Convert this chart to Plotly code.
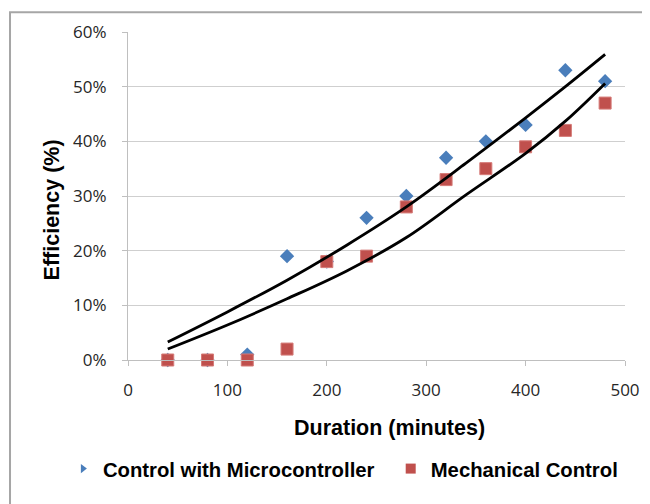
import plotly.graph_objects as go

# ---- data ----
duration = [40, 80, 120, 160, 200, 240, 280, 320, 360, 400, 440, 480]
micro_eff = [0, 0, 1, 19, 18, 26, 30, 37, 40, 43, 53, 51]
mech_eff = [0, 0, 0, 2, 18, 19, 28, 33, 35, 39, 42, 47]

trend_x = [40, 100, 160, 220, 280, 340, 400, 440, 480]
trend_micro = [3.3, 8.8, 14.6, 21.0, 28.0, 36.0, 44.3, 50.0, 55.9]
trend_mech = [2.0, 6.4, 11.2, 16.3, 22.4, 30.2, 37.8, 43.7, 50.6]

x_ticks = [0, 100, 200, 300, 400, 500]
y_ticks = [0, 10, 20, 30, 40, 50, 60]
y_tick_labels = ["0%", "10%", "20%", "30%", "40%", "50%", "60%"]

names = ["Control with Microcontroller", "Mechanical Control"]
blue = "#4a7ebb"
red = "#c0504d"

fig = go.Figure()

fig.add_trace(go.Scatter(
    x=duration, y=micro_eff, mode="markers", showlegend=False,
    marker=dict(symbol="diamond", size=11, color=blue, line=dict(width=0)),
    cliponaxis=False))
fig.add_trace(go.Scatter(
    x=duration, y=mech_eff, mode="markers", showlegend=False,
    marker=dict(symbol="square", size=12, color=red,
                line=dict(width=1, color="#d57a77")),
    cliponaxis=False))
fig.add_trace(go.Scatter(
    x=trend_x, y=trend_micro, mode="lines", showlegend=False,
    line=dict(color="black", width=2.8, shape="spline")))
fig.add_trace(go.Scatter(
    x=trend_x, y=trend_mech, mode="lines", showlegend=False,
    line=dict(color="black", width=2.8, shape="spline")))

# legend entries (non-breaking spaces widen the gap between the two items)
fig.add_trace(go.Scatter(
    x=[None], y=[None], mode="markers", name=names[0] + "\u00a0\u00a0",
    marker=dict(symbol="triangle-right", size=8, color=blue)))
fig.add_trace(go.Scatter(
    x=[None], y=[None], mode="markers", name=names[1],
    marker=dict(symbol="square", size=10, color=red)))

fig.update_layout(
    width=650, height=504,
    margin=dict(l=120, r=33, t=21, b=152),
    paper_bgcolor="white", plot_bgcolor="white",
    font=dict(family="Liberation Sans, Arial, sans-serif", color="#000000"),
    showlegend=True,
    legend=dict(orientation="h", x=-0.131, xanchor="left",
                y=-0.332, yanchor="middle",
                font=dict(family="Liberation Sans, Arial, sans-serif",
                          size=20.3, color="#000000", weight="bold"),
                bgcolor="rgba(0,0,0,0)", itemclick=False),
    xaxis=dict(range=[0, 500], tickvals=x_ticks, showgrid=False,
               showline=True, linecolor="#bfbfbf", linewidth=1,
               ticks="outside", ticklen=5, tickcolor="#bfbfbf",
               ticklabelstandoff=10,
               tickfont=dict(family="Open Sans, sans-serif", size=17,
                             color="#262626"),
               zeroline=False),
    yaxis=dict(range=[0, 60], tickvals=y_ticks, ticktext=y_tick_labels,
               showgrid=True, gridcolor="#cfcfcf", gridwidth=1.3,
               showline=True, linecolor="#bfbfbf", linewidth=1,
               ticks="outside", ticklen=5, tickcolor="#bfbfbf",
               ticklabelstandoff=12,
               tickfont=dict(family="Open Sans, sans-serif", size=17,
                             color="#262626"),
               zeroline=False),
    annotations=[
        dict(text="Duration (minutes)", xref="paper", yref="paper",
             x=0.527, y=-0.2085, xanchor="center", yanchor="middle",
             showarrow=False,
             font=dict(family="Liberation Sans, Arial, sans-serif",
                       size=21.5, color="#000000", weight="bold")),
        dict(text="Efficiency (%)", xref="paper", yref="paper",
             x=-0.153, y=0.459, xanchor="center", yanchor="middle",
             textangle=-90, showarrow=False,
             font=dict(family="Liberation Sans, Arial, sans-serif",
                       size=21.5, color="#000000", weight="bold")),
    ],
    shapes=[
        dict(type="rect", xref="paper", yref="paper",
             x0=-0.2374, x1=1.1, y0=-0.5, y1=1.0604,
             line=dict(color="#a6a6a6", width=2), fillcolor="rgba(0,0,0,0)",
             layer="below"),
    ],
)

fig.write_html("out.html")
